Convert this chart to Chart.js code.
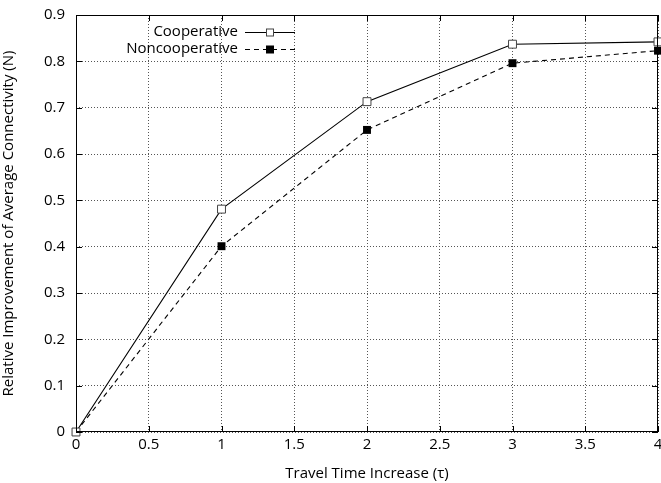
<!DOCTYPE html>
<html>
<head>
<meta charset="utf-8">
<script src="https://cdn.jsdelivr.net/npm/chart.js@4.4.1/dist/chart.umd.min.js"></script>
<style>
  html, body { margin: 0; padding: 0; background: #fff; }
  #wrap { width: 661px; height: 483px; }
</style>
</head>
<body>
<div id="wrap"><canvas id="c" width="661" height="483"></canvas></div>
<script>
// values
const travelTime = [0, 1, 2, 3, 4];
const cooperative = [0, 0.481, 0.713, 0.837, 0.842];
const noncooperative = [0, 0.401, 0.652, 0.796, 0.823];
const seriesNames = ['Cooperative', 'Noncooperative'];

const FONT = '"Open Sans", "Noto Sans", sans-serif';
const FSIZE = 15;

// gnuplot-style frame with inward ticks on all four sides
const framePlugin = {
  id: 'frame',
  afterDatasetsDraw(chart) {
    const { ctx, chartArea: a, scales } = chart;
    ctx.save();
    ctx.strokeStyle = '#000';
    ctx.lineWidth = 1;
    ctx.strokeRect(a.left + 0.5, a.top + 0.5, a.right - a.left - 1, a.bottom - a.top - 1);
    const len = 6;
    ctx.beginPath();
    scales.x.ticks.forEach(t => {
      const px = Math.round(scales.x.getPixelForValue(t.value)) + 0.5;
      ctx.moveTo(px, a.bottom); ctx.lineTo(px, a.bottom - len);
      ctx.moveTo(px, a.top); ctx.lineTo(px, a.top + len);
    });
    scales.y.ticks.forEach(t => {
      const py = Math.round(scales.y.getPixelForValue(t.value)) + 0.5;
      ctx.moveTo(a.left, py); ctx.lineTo(a.left + len, py);
      ctx.moveTo(a.right, py); ctx.lineTo(a.right - len, py);
    });
    ctx.stroke();
    ctx.restore();
  }
};

// legend: text to the left of the sample, as gnuplot does
const keyPlugin = {
  id: 'key',
  afterDraw(chart) {
    const { ctx, chartArea: a } = chart;
    ctx.save();
    ctx.font = FSIZE + 'px ' + FONT;
    ctx.textAlign = 'right';
    ctx.textBaseline = 'middle';
    const textRight = a.left + 162;
    const x0 = textRight + 7, x1 = textRight + 57, xm = (x0 + x1) / 2;
    chart.data.datasets.forEach((ds, i) => {
      const y = a.top + 17 + i * 17;
      ctx.fillStyle = '#000';
      ctx.fillText(ds.label, textRight, y);
      ctx.strokeStyle = '#000';
      ctx.lineWidth = 1.1;
      ctx.setLineDash(ds.borderDash || []);
      ctx.beginPath();
      ctx.moveTo(x0, y + 0.5); ctx.lineTo(x1, y + 0.5);
      ctx.stroke();
      ctx.setLineDash([]);
      const s = 4;
      if (i === 0) {
        ctx.fillStyle = '#fff';
        ctx.fillRect(xm - s, y - s + 0.5, 2 * s, 2 * s);
        ctx.strokeStyle = '#444';
        ctx.lineWidth = 1;
        ctx.strokeRect(xm - s + 0.5, y - s + 1, 2 * s - 1, 2 * s - 1);
      } else {
        ctx.fillStyle = '#000';
        ctx.fillRect(xm - s, y - s + 0.5, 2 * s, 2 * s);
      }
    });
    ctx.restore();
  }
};

new Chart(document.getElementById('c'), {
  type: 'line',
  data: {
    labels: travelTime,
    datasets: [
      {
        label: seriesNames[0],
        data: travelTime.map((x, i) => ({ x, y: cooperative[i] })),
        borderColor: '#000', borderWidth: 1.1,
        pointStyle: 'rect', pointRadius: 5.6,
        pointBackgroundColor: '#fff', pointBorderColor: '#444', pointBorderWidth: 1,
        clip: false, tension: 0
      },
      {
        label: seriesNames[1],
        data: travelTime.map((x, i) => ({ x, y: noncooperative[i] })),
        borderColor: '#000', borderWidth: 1.1, borderDash: [5, 4],
        pointStyle: 'rect', pointRadius: 5.6,
        pointBackgroundColor: '#000', pointBorderColor: '#000', pointBorderWidth: 0,
        clip: false, tension: 0
      }
    ]
  },
  options: {
    responsive: false,
    animation: false,
    events: [],
    layout: { autoPadding: false, padding: { top: 15, right: 3, left: 0, bottom: 0 } },
    plugins: { legend: { display: false }, tooltip: { enabled: false } },
    scales: {
      x: {
        type: 'linear', min: 0, max: 4,
        ticks: { stepSize: 0.5, color: '#000', font: { family: FONT, size: FSIZE }, padding: 4, maxRotation: 0,
                 callback: v => String(v) },
        grid: { color: '#555', lineWidth: 1, drawTicks: false },
        border: { display: false, dash: [1, 2] },
        title: { display: true, text: 'Travel Time Increase (τ)', color: '#000', font: { family: FONT, size: FSIZE }, padding: { top: 1, bottom: 0 } },
        afterFit(s) { s.height = 51; s.paddingLeft = 0; s.paddingRight = 0; }
      },
      y: {
        min: 0, max: 0.9,
        ticks: { stepSize: 0.1, color: '#000', font: { family: FONT, size: FSIZE }, padding: 11,
                 callback: v => String(Math.round(v * 10) / 10) },
        grid: { color: '#555', lineWidth: 1, drawTicks: false },
        border: { display: false, dash: [1, 2] },
        title: { display: true, text: 'Relative Improvement of Average Connectivity (N)', color: '#000', font: { family: FONT, size: FSIZE }, padding: { top: 0, bottom: 0 } },
        afterFit(s) { s.width = 76; s.paddingTop = 0; s.paddingBottom = 0; }
      }
    }
  },
  plugins: [framePlugin, keyPlugin]
});
</script>
</body>
</html>
